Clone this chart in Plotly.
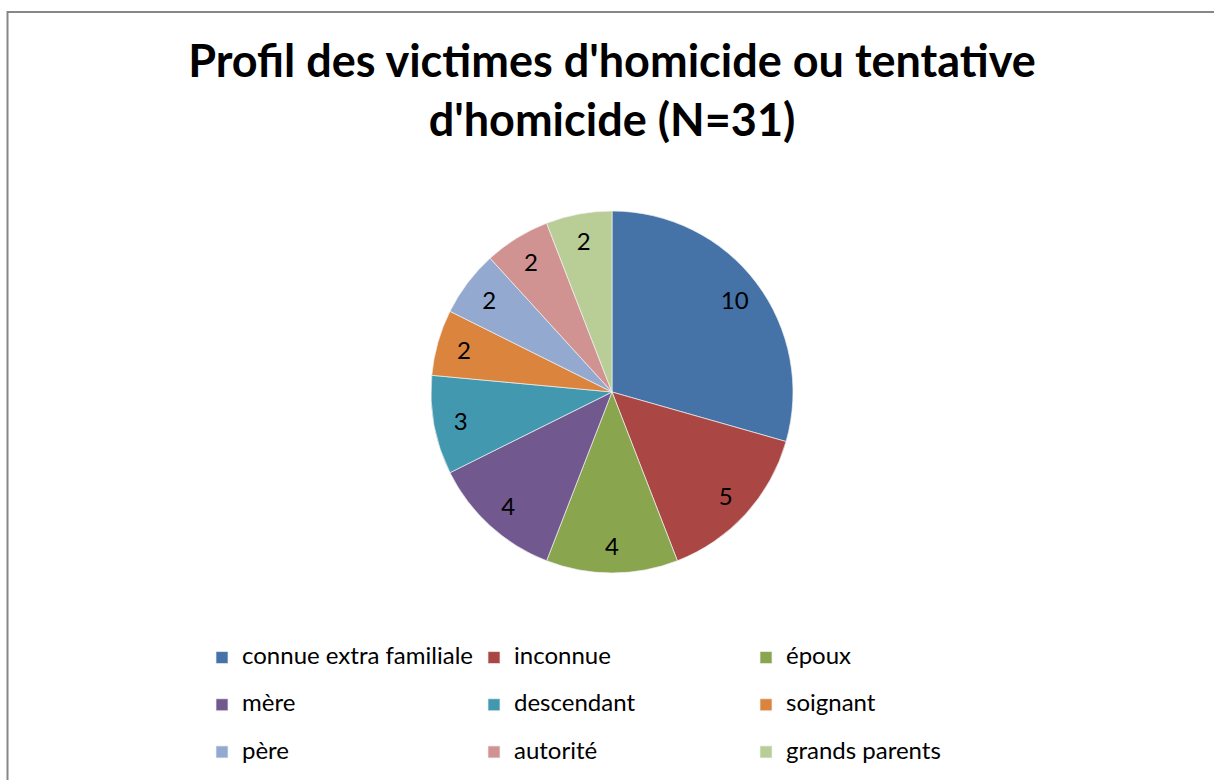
import plotly.graph_objects as go

# data
labels = ["connue extra familiale", "inconnue", "époux", "mère", "descendant",
          "soignant", "père", "autorité", "grands parents"]
values = [10, 5, 4, 4, 3, 2, 2, 2, 2]
colors = ["#4572A7", "#AA4643", "#89A54E", "#71588F", "#4198AF",
          "#DB843D", "#93A9CF", "#D19392", "#B9CD96"]

title_text = "Profil des victimes d'homicide ou tentative<br>d'homicide (N=31)"

W, H = 1214, 780
MR = 250            # right margin, so the legend wraps after 3 columns
PW = W - MR         # paper width in px
font_family = "Lato, 'Open Sans', sans-serif"

# legend rows are spaced wider than plotly's default: small base font size
# for the line height, an inner span for the visible size, and a blank second line
legend_labels = ['<span style="font-size:24px">%s</span><br> ' % s for s in labels]

# pie geometry in pixels -> paper fractions
cx, cy, r = 612, 392, 181
dom_x = [(cx - r) / PW, (cx + r) / PW]
dom_y = [1 - (cy + r) / H, 1 - (cy - r) / H]

fig = go.Figure()

# the coloured pie
fig.add_trace(go.Pie(
    labels=legend_labels,
    values=values,
    marker=dict(colors=colors, line=dict(color="#f0f0f0", width=0.7)),
    sort=False,
    direction="clockwise",
    rotation=0,
    textinfo="none",
    domain=dict(x=dom_x, y=dom_y),
    hoverinfo="value+percent",
))

# transparent ring on top, only to put the value labels near the outer edge
fig.add_trace(go.Pie(
    labels=legend_labels,
    values=values,
    hole=0.7,
    marker=dict(colors=["rgba(0,0,0,0)"] * len(values), line=dict(width=0)),
    sort=False,
    direction="clockwise",
    rotation=0,
    textinfo="value",
    textposition="inside",
    insidetextorientation="horizontal",
    textfont=dict(size=24, color="black", family=font_family),
    domain=dict(x=dom_x, y=dom_y),
    showlegend=False,
    hoverinfo="skip",
))

fig.update_layout(
    width=W, height=H,
    margin=dict(l=0, r=MR, t=0, b=0, autoexpand=False),
    paper_bgcolor="white",
    plot_bgcolor="white",
    font=dict(family=font_family, color="black"),
    title=dict(
        text="<b>" + title_text + "</b>",
        x=612 / W, xanchor="center",
        y=1 - 77 / H, yanchor="top",
        font=dict(size=45, family=font_family, color="black"),
    ),
    legend=dict(
        orientation="h",
        x=202 / PW, xanchor="left",
        y=1 - 640 / H, yanchor="top",
        font=dict(size=17, family=font_family, color="black"),
        valign="top",
        entrywidth=227,
        entrywidthmode="pixels",
        bgcolor="rgba(0,0,0,0)",
    ),
    shapes=[dict(
        type="rect", xref="paper", yref="paper",
        x0=7.5 / PW, x1=1.4, y0=-0.05, y1=1 - 12 / H,
        line=dict(color="#878787", width=2),
    )],
)

fig.write_html("out.html", config={"displayModeBar": False},
               post_script="document.body.style.margin='0px';")
